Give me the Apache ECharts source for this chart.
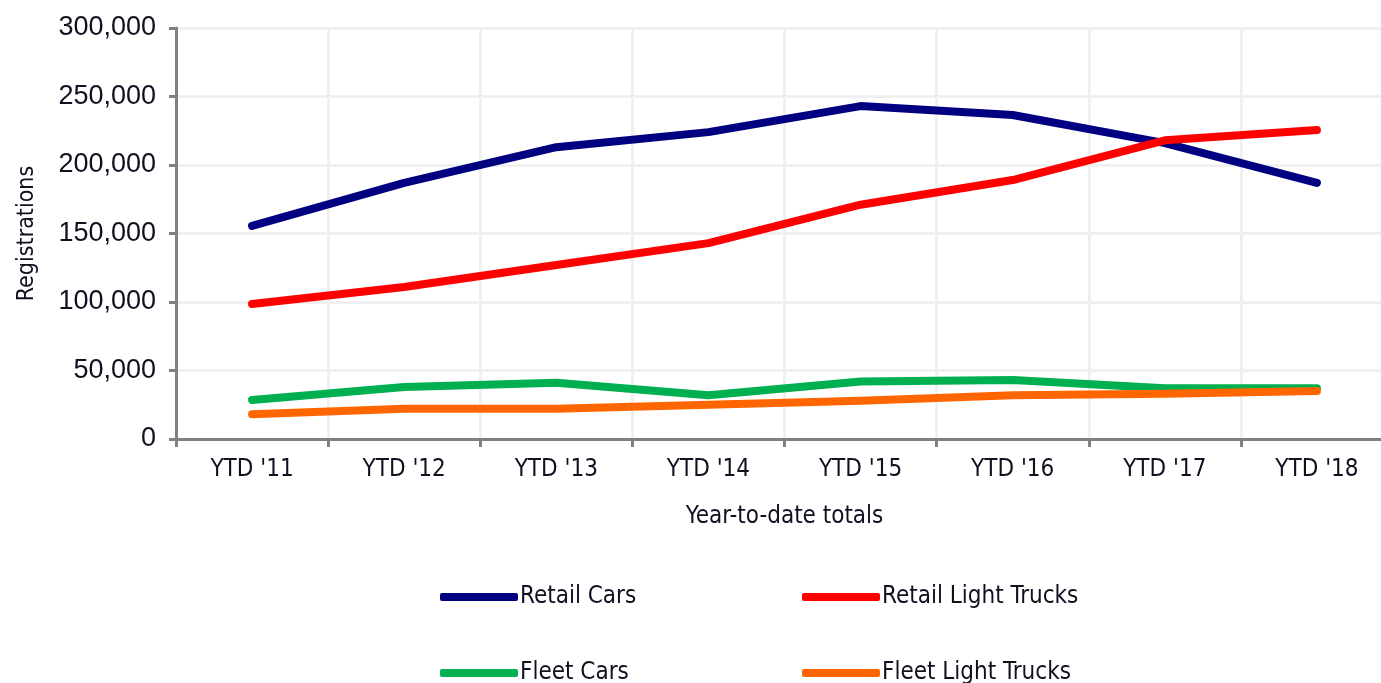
<!DOCTYPE html>
<html>
<head>
<meta charset="utf-8">
<script src="https://cdn.jsdelivr.net/npm/echarts@6/dist/echarts.min.js"></script>
<style>html,body{margin:0;padding:0;background:#fff;overflow:hidden;width:1381px;height:683px;}#c{width:1393px;height:683px;}</style>
</head>
<body>
<div id="c"></div>
<script>
const categories = ["YTD '11", "YTD '12", "YTD '13", "YTD '14", "YTD '15", "YTD '16", "YTD '17", "YTD '18"];
const retailCars = [155500, 187000, 213000, 224000, 243000, 236500, 216000, 187000];
const retailLightTrucks = [98500, 111000, 127000, 143000, 171000, 189000, 218000, 225500];
const fleetCars = [28500, 38000, 41000, 32000, 42000, 43000, 37000, 37000];
const fleetLightTrucks = [18000, 22000, 22000, 25000, 28000, 32000, 33000, 35000];
const yTicks = [0, 50000, 100000, 150000, 200000, 250000, 300000];

const narrow = "'Liberation Sans Narrow', 'DejaVu Sans Condensed', sans-serif";
const regular = "'Liberation Sans', Arial, sans-serif";
const txt = '#101020';

function mkSeries(name, data, color) {
  return {
    name: name, type: 'line', data: data, showSymbol: false, symbol: 'none',
    lineStyle: { color: color, width: 8, cap: 'round', join: 'round' },
    itemStyle: { color: color }, z: 3
  };
}
function mkLegend(name, left, top) {
  return {
    data: [name], left: left, top: top, icon: 'roundRect',
    itemWidth: 78, itemHeight: 8, padding: 0,
    textStyle: { fontFamily: narrow, fontSize: 24, color: txt, padding: [0, 0, 0, -3] },
    selectedMode: false
  };
}

const chart = echarts.init(document.getElementById('c'), null, { renderer: 'canvas' });
chart.setOption({
  animation: false,
  backgroundColor: '#fff',
  grid: { left: 176, right: 0, top: 28, bottom: 244, containLabel: false },
  xAxis: {
    type: 'category', data: categories, boundaryGap: true,
    name: 'Year-to-date totals', nameLocation: 'middle', nameGap: 66,
    nameTextStyle: { fontFamily: narrow, fontSize: 24, color: txt },
    axisLine: { show: true, lineStyle: { color: '#808080', width: 3 } },
    axisTick: { show: true, length: 8, lineStyle: { color: '#808080', width: 3 } },
    axisLabel: { fontFamily: narrow, fontSize: 24, color: txt, margin: 19 },
    splitLine: { show: true, lineStyle: { color: '#f0f0f0', width: 3 } }
  },
  yAxis: {
    type: 'value', min: 0, max: 300000, interval: 50000,
    name: 'Registrations', nameLocation: 'middle', nameGap: 137, nameRotate: 90,
    nameTextStyle: { fontFamily: narrow, fontSize: 23, color: txt },
    axisLine: { show: true, lineStyle: { color: '#808080', width: 3 } },
    axisTick: { show: true, length: 7, lineStyle: { color: '#808080', width: 3 } },
    axisLabel: {
      fontFamily: regular, fontSize: 27, color: txt, margin: 20,
      formatter: function (v) { return yTicks.indexOf(v) >= 0 ? v.toLocaleString('en-US') : ''; }
    },
    splitLine: { show: true, lineStyle: { color: '#f0f0f0', width: 3 } }
  },
  legend: [
    mkLegend('Retail Cars', 440, 585),
    mkLegend('Retail Light Trucks', 802, 585),
    mkLegend('Fleet Cars', 440, 661),
    mkLegend('Fleet Light Trucks', 802, 661)
  ],
  series: [
    mkSeries('Retail Cars', retailCars, '#000080'),
    mkSeries('Retail Light Trucks', retailLightTrucks, '#ff0000'),
    mkSeries('Fleet Cars', fleetCars, '#00b050'),
    mkSeries('Fleet Light Trucks', fleetLightTrucks, '#ff6600')
  ]
});
</script>
</body>
</html>
